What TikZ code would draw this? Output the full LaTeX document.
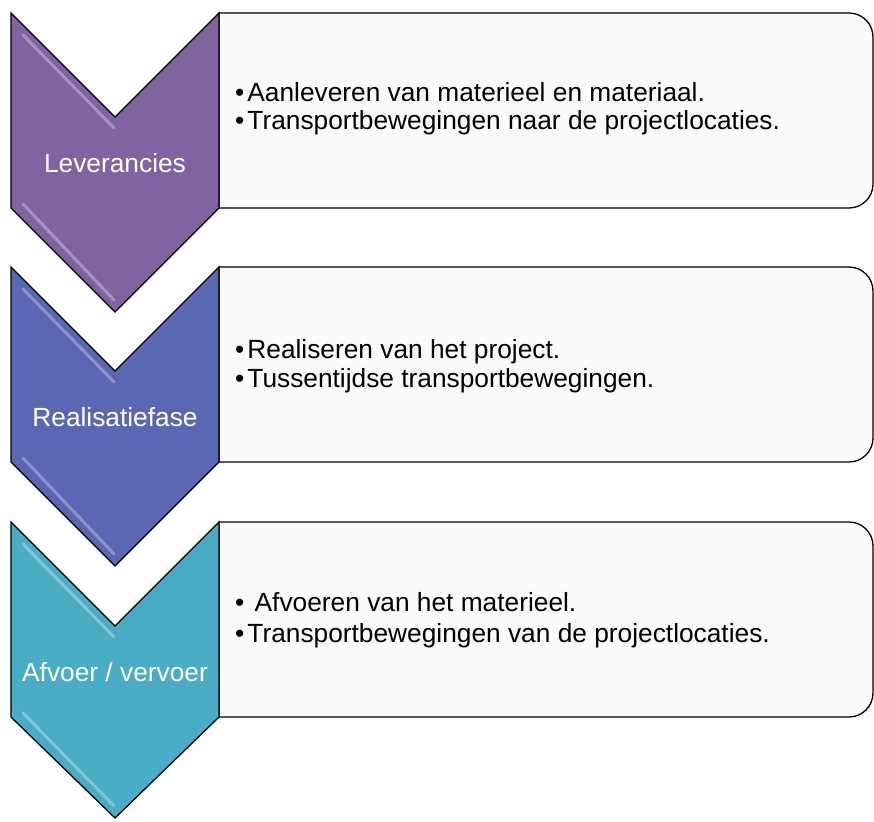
\documentclass[tikz,border=0pt]{standalone}
\usepackage{fontspec}
\setmainfont{Liberation Sans}
\definecolor{cpurple}{HTML}{8064A2}
\definecolor{cblue}{HTML}{5A67B2}
\definecolor{cteal}{HTML}{4BACC6}
\definecolor{boxfill}{HTML}{FAFAFA}
\newcommand{\bul}{•\hspace{3pt}}
\tikzset{
  chev/.style={draw=black, line width=1.3pt, line join=miter},
  panel/.style={draw=black, line width=1.3pt, fill=boxfill},
  gloss/.style={draw=white, draw opacity=0.3, line width=3pt, line cap=round},
  lbl/.style={text=white, font=\fontsize{26.3}{30}\selectfont, anchor=base, inner sep=0pt},
  item/.style={text=black, font=\fontsize{26.3}{30}\selectfont, anchor=base west, inner sep=0pt},
}
\begin{document}
\begin{tikzpicture}[x=1pt,y=-1pt]
\useasboundingbox (0,0) rectangle (874,821);

% ---- stage 1
\draw[panel] (219,208) -- (219,13) -- (849,13) arc(-90:0:24) -- (873,184) arc(0:90:24) -- cycle;
\draw[chev, fill=cpurple] (11,13) -- (115,117) -- (219,13) -- (219,208) -- (115,312) -- (11,208) -- cycle;
\draw[gloss] (23,35) -- (114,128);
\draw[gloss] (23,204) -- (114,300);
\node[lbl] (l1) at (115,172) {Leverancies};
\node[item] (a1) at (235,102) {\bul Aanleveren van materieel en materiaal.};
\node[item] (a2) at (235,130) {\bul Transportbewegingen naar de projectlocaties.};

% ---- stage 2
\draw[panel] (219,462) -- (219,267) -- (849,267) arc(-90:0:24) -- (873,438) arc(0:90:24) -- cycle;
\draw[chev, fill=cblue] (11,267) -- (115,371) -- (219,267) -- (219,462) -- (115,566) -- (11,462) -- cycle;
\draw[gloss] (23,289) -- (114,382);
\draw[gloss] (23,458) -- (114,554);
\node[lbl] (l2) at (115,426) {Realisatiefase};
\node[item] (b1) at (235,358) {\bul Realiseren van het project.};
\node[item] (b2) at (235,387) {\bul Tussentijdse transportbewegingen.};

% ---- stage 3
\draw[panel] (219,717) -- (219,522) -- (849,522) arc(-90:0:24) -- (873,693) arc(0:90:24) -- cycle;
\draw[chev, fill=cteal] (11,522) -- (115,626) -- (219,522) -- (219,717) -- (115,818) -- (11,717) -- cycle;
\draw[gloss] (23,544) -- (114,637);
\draw[gloss] (23,713) -- (114,806);
\node[lbl] (l3) at (115,681) {Afvoer / vervoer};
\node[item] (c1) at (235,611) {•\hspace{3pt} Afvoeren van het materieel.};
\node[item] (c2) at (235,642) {\bul Transportbewegingen van de projectlocaties.};
\end{tikzpicture}
\end{document}
